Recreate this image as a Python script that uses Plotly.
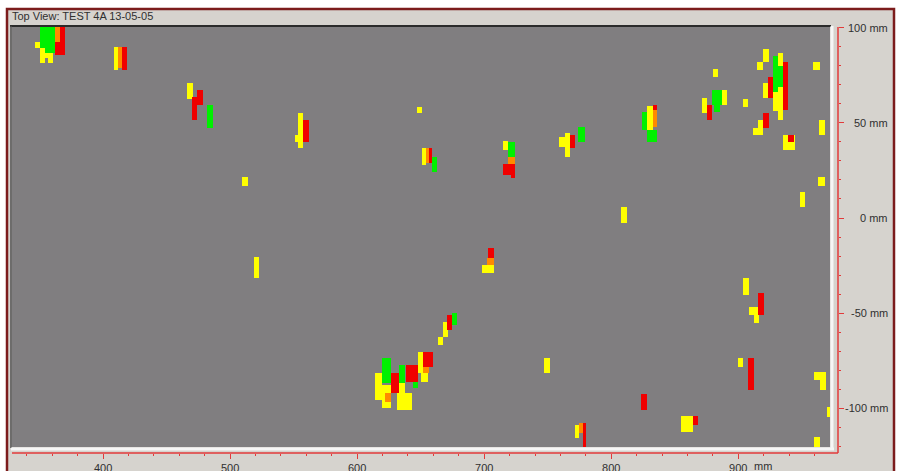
import plotly.graph_objects as go

# Detected cells per colour: (x_left_mm, x_right_mm, y_bottom_mm, y_top_mm)
YELLOW_CELLS = [
    (346.5, 350.4, 89.5, 92.6), (350.4, 354.3, 81.6, 89.5), (354.3, 356.7, 84.2, 86.8),
    (356.7, 360.6, 81.6, 86.8), (408.7, 412.0, 78.0, 90.0), (466.0, 470.5, 62.6, 71.0),
    (553.5, 557.5, 36.8, 55.3), (551.2, 553.5, 40.0, 43.7), (647.0, 651.0, 55.3, 58.5),
    (651.0, 654.5, 28.0, 36.8), (714.5, 718.5, 35.8, 40.5), (763.8, 767.7, 32.1, 44.7),
    (759.1, 763.8, 37.6, 42.6), (828.5, 832.5, 45.3, 59.0), (871.5, 875.5, 55.3, 63.2),
    (887.5, 891.5, 59.5, 67.4), (880.0, 884.0, 74.2, 78.4), (903.5, 907.5, 58.4, 62.6),
    (919.7, 924.0, 82.1, 89.0), (915.0, 919.7, 77.9, 82.1), (919.7, 923.6, 63.2, 71.1),
    (927.6, 931.5, 56.5, 66.3), (931.5, 935.5, 80.0, 86.8), (931.5, 935.5, 51.6, 69.0),
    (915.8, 919.7, 43.7, 51.6), (911.8, 915.8, 43.7, 47.5), (935.5, 945.0, 35.8, 43.7),
    (959.1, 964.5, 77.9, 82.1), (963.8, 968.5, 43.7, 51.6), (963.0, 968.5, 16.8, 21.6),
    (509.5, 514.2, 16.8, 21.6), (518.9, 522.8, -31.6, -20.5), (698.5, 707.5, -29.0, -24.5),
    (807.9, 812.6, -2.6, 5.8), (948.8, 952.8, 5.8, 13.7), (904.0, 908.6, -40.5, -31.6),
    (908.6, 916.6, -51.0, -46.8), (912.6, 916.6, -55.3, -51.0), (667.7, 671.5, -62.6, -54.7),
    (663.5, 667.7, -66.8, -62.6), (614.2, 619.7, -95.8, -81.6), (619.7, 626.8, -100.0, -88.0),
    (633.1, 637.8, -92.1, -86.8), (631.5, 643.3, -101.1, -92.1), (648.0, 651.9, -81.6, -70.5),
    (650.4, 655.9, -86.3, -81.6), (747.3, 752.0, -81.6, -73.7), (900.0, 903.9, -78.4, -73.7),
    (855.0, 864.0, -112.6, -104.2), (771.7, 775.0, -115.8, -109.0), (959.8, 968.0, -85.0, -81.0),
    (964.0, 969.0, -90.5, -81.0), (959.8, 964.5, -120.5, -115.3), (970.0, 974.0, -104.5, -99.5),
]

ORANGE_CELLS = [
    (362.2, 366.1, 92.6, 100.5), (412.0, 414.5, 79.0, 90.0), (654.5, 656.5, 28.8, 36.8),
    (718.5, 724.0, 28.5, 32.1), (832.5, 836.0, 48.0, 57.0), (702.5, 707.5, -24.5, -21.0),
    (622.1, 626.8, -96.8, -92.1), (651.9, 656.7, -81.6, -78.4), (775.0, 777.5, -113.0, -108.0),
]

GREEN_CELLS = [
    (350.4, 354.3, 89.5, 100.5), (354.3, 362.2, 86.8, 100.5), (482.0, 486.5, 47.4, 59.5),
    (659.0, 663.0, 24.2, 32.1), (718.5, 724.0, 32.1, 40.0), (774.0, 779.0, 40.0, 47.9),
    (824.5, 828.5, 46.4, 55.8), (828.5, 836.0, 40.0, 46.4), (879.5, 887.5, 59.5, 67.4),
    (881.0, 886.0, 55.8, 59.5), (927.6, 931.5, 66.3, 85.5), (931.5, 935.5, 69.0, 80.0),
    (674.8, 678.5, -56.3, -50.0), (619.7, 626.8, -86.8, -73.7), (633.1, 637.8, -86.8, -77.4),
    (644.1, 648.0, -89.5, -86.3),
]

RED_CELLS = [
    (362.2, 366.1, 85.8, 92.6), (366.1, 370.1, 85.8, 100.5), (414.5, 418.5, 78.0, 90.0),
    (474.0, 478.7, 59.5, 67.4), (470.1, 474.0, 51.6, 63.7), (557.5, 562.0, 40.0, 51.6),
    (656.5, 659.0, 28.8, 36.8), (715.0, 721.0, 22.5, 28.5), (721.0, 724.0, 21.0, 28.5),
    (767.7, 771.7, 36.8, 43.7), (832.5, 836.0, 57.0, 59.5), (875.5, 879.5, 51.6, 59.5),
    (923.6, 927.6, 63.2, 74.2), (935.5, 939.4, 56.8, 82.1), (919.7, 924.0, 47.4, 55.3),
    (939.4, 944.0, 40.0, 43.7), (703.0, 707.5, -21.0, -15.8), (915.8, 920.5, -51.1, -39.5),
    (670.8, 674.8, -59.0, -51.0), (626.8, 633.1, -92.1, -81.6), (638.6, 648.0, -86.3, -77.4),
    (651.9, 659.8, -78.4, -70.5), (823.6, 828.3, -101.1, -92.6), (907.9, 912.6, -90.5, -73.7),
    (864.0, 868.5, -109.0, -104.2), (777.5, 780.5, -120.5, -108.0),
]

X_RANGE = [328.3, 972.2]
Y_RANGE = [-120.5, 100.5]
Y_TICKS = [100, 50, 0, -50, -100]
TITLE = "Top View: TEST 4A 13-05-05"

FONT = "Liberation Sans, Arial, sans-serif"
AXIS_RED = "#e23a3a"
W, H = 900, 471
ML, MR, MT, MB = 12, 62, 27, 18
PW, PH = W - ML - MR, H - MT - MB


def px_x(px):
    return (px - ML) / PW


def px_y(py):
    return (H - MB - py) / PH


def cell_trace(cells, color, name):
    return go.Bar(
        x=[(a + b) / 2 for a, b, _, _ in cells],
        width=[b - a for a, b, _, _ in cells],
        base=[lo for _, _, lo, _ in cells],
        y=[hi - lo for _, _, lo, hi in cells],
        marker=dict(color=color, line=dict(width=0)),
        name=name,
        hoverinfo="skip",
    )


fig = go.Figure()
fig.add_trace(cell_trace(YELLOW_CELLS, "#ffff00", "yellow"))
fig.add_trace(cell_trace(ORANGE_CELLS, "#ff8a00", "orange"))
fig.add_trace(cell_trace(GREEN_CELLS, "#00f000", "green"))
fig.add_trace(cell_trace(RED_CELLS, "#f00000", "red"))

shapes = [
    # window frame
    dict(type="rect", xref="paper", yref="paper", x0=px_x(7), x1=px_x(894),
         y0=px_y(490), y1=px_y(9), fillcolor="#d6d3ce",
         line=dict(color="#7c1c1c", width=2.5), layer="below"),
    # plot field
    dict(type="rect", xref="x domain", yref="y domain", x0=0, x1=1, y0=0, y1=1,
         fillcolor="#807e80", line=dict(width=0), layer="below"),
    # sunken edges
    dict(type="line", xref="paper", yref="paper", x0=px_x(10), x1=px_x(831),
         y0=px_y(26), y1=px_y(26), line=dict(color="#2b2b2b", width=2), layer="below"),
    dict(type="line", xref="paper", yref="paper", x0=px_x(11), x1=px_x(11),
         y0=px_y(26), y1=px_y(448), line=dict(color="#4a4a4a", width=1.5), layer="below"),
    dict(type="line", xref="paper", yref="paper", x0=px_x(11), x1=px_x(834),
         y0=px_y(449), y1=px_y(449), line=dict(color="#f6f6f6", width=3), layer="below"),
    dict(type="line", xref="paper", yref="paper", x0=px_x(832), x1=px_x(832),
         y0=px_y(26), y1=px_y(450), line=dict(color="#f6f6f6", width=3), layer="below"),
    # axis lines
    dict(type="line", xref="paper", yref="paper", x0=1, x1=1, y0=0, y1=px_y(27),
         line=dict(color=AXIS_RED, width=1.5), layer="below"),
    dict(type="line", xref="paper", yref="paper", x0=0, x1=1, y0=0, y1=0,
         line=dict(color=AXIS_RED, width=1.5), layer="below"),
]

annotations = [
    dict(text=TITLE, xref="paper", yref="paper", x=px_x(10), y=px_y(16),
         xanchor="left", yanchor="middle", showarrow=False,
         font=dict(family=FONT, size=11, color="#303030")),
    dict(text="mm", xref="x", yref="paper", x=919.7, y=px_y(466),
         xanchor="center", yanchor="middle", showarrow=False,
         font=dict(family=FONT, size=11, color="#303030")),
]
for v in Y_TICKS:
    annotations.append(dict(text=f"{v} mm", xref="paper", yref="y", x=px_x(890), y=v,
                            xanchor="right", yanchor="middle", showarrow=False,
                            font=dict(family=FONT, size=11, color="#303030")))

fig.update_layout(
    width=W, height=H,
    margin=dict(l=ML, r=MR, t=MT, b=MB, pad=0, autoexpand=False),
    paper_bgcolor="#ffffff",
    plot_bgcolor="rgba(0,0,0,0)",
    barmode="overlay",
    showlegend=False,
    hovermode=False,
    bargap=0,
    shapes=shapes,
    annotations=annotations,
    xaxis=dict(
        domain=[0, px_x(830)], range=X_RANGE, anchor="free", position=0,
        automargin=False,
        showgrid=False, zeroline=False, showline=False,
        ticks="outside", tick0=0, dtick=100, ticklen=5, tickwidth=1, tickcolor=AXIS_RED,
        tickfont=dict(family=FONT, size=11, color="#303030"),
        minor=dict(ticks="outside", tick0=0, dtick=20, ticklen=2, tickcolor=AXIS_RED, showgrid=False),
        fixedrange=True,
    ),
    yaxis=dict(
        domain=[px_y(447), 1], range=Y_RANGE, side="right", anchor="free", position=1,
        automargin=False,
        showgrid=False, zeroline=False, showline=False, showticklabels=False,
        ticks="outside", tick0=0, dtick=50, ticklen=5, tickwidth=1, tickcolor=AXIS_RED,
        minor=dict(ticks="outside", tick0=0, dtick=10, ticklen=2, tickcolor=AXIS_RED, showgrid=False),
        fixedrange=True,
    ),
)

fig.write_html("out.html", config={"displayModeBar": False})
